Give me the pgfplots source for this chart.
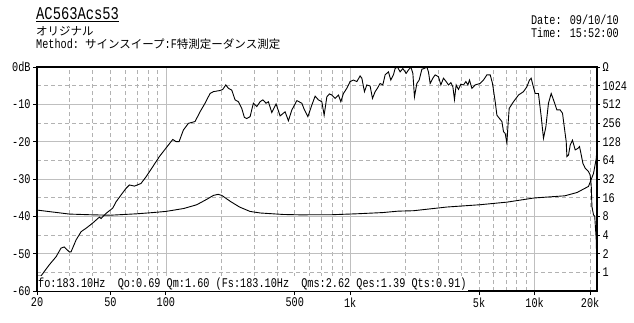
\documentclass[border=0pt]{standalone}
\usepackage{pgfplots}
\pgfplotsset{compat=1.18}
\usepackage{graphicx}
\usepackage{fontspec}
\setmainfont{Liberation Mono}
\newfontfamily\jp{Noto Sans CJK JP}
\newcommand\T[1]{\scalebox{1}[1.3]{#1}}
\begin{document}
\begin{tikzpicture}
\path[use as bounding box, fill=white] (0pt,0pt) rectangle (634pt,322pt);
\begin{axis}[
  at={(37pt,31pt)}, anchor=south west,
  width=560pt, height=224pt, scale only axis,
  xmode=log, xmin=20, xmax=21800,
  ymin=-60, ymax=0,
  font=\fontsize{10.2}{12}\selectfont,
  axis line style={line width=1.6pt},
  xtick={100,1000,10000}, xticklabels={\T{100},\T{1k},\T{10k}},
  extra x ticks={20,50,500,5000,20000},
  extra x tick labels={\T{20},\T{50},\T{500},\T{5k},\T{20k}},
  extra x tick style={grid=none},
  minor xtick={30,40,50,60,70,80,90,200,300,400,500,600,700,800,900,2000,3000,4000,5000,6000,7000,8000,9000,20000},
  ytick={-60,-50,-40,-30,-20,-10,0},
  yticklabels={\T{-60},\T{-50},\T{-40},\T{-30},\T{-20},\T{-10},\T{0dB}},
  minor ytick={-55,-45,-35,-25,-15,-5},
  grid=both,
  major grid style={black!25, line width=0.6pt},
  minor grid style={black!30, line width=0.6pt, dash pattern=on 4pt off 3pt},
  tick align=outside, xtick pos=lower, ytick pos=left,
  major tick length=4pt, minor tick length=0pt,
  every tick/.style={black, line width=0.8pt},
  xticklabel style={yshift=1pt},
  yticklabel style={xshift=1pt},
]
\addplot[black, line width=0.9pt] coordinates {
(20,-56) (21,-56) (23.3,-53) (25.4,-50.8) (27.0,-48.5) (28.1,-48.2) (29.9,-49.5) (30.6,-49.5)
(32.6,-46.3) (34.7,-44.1) (36.9,-43.2) (40.1,-41.8) (43.6,-40.2) (44.5,-40.6) (47.4,-39.2)
(51.5,-37.8) (53.7,-36.1) (57.1,-34.3) (60.8,-32.5) (63.4,-31.6) (67.5,-31.9) (73.3,-31.2)
(78.1,-29.4) (84.9,-26.7) (92.2,-24) (100.2,-21.7) (109,-19.4) (113.6,-20) (117.9,-20)
(124.4,-16.9) (132.4,-15.1) (144,-14.6) (153.2,-12) (163.1,-9.7) (173.6,-7.1) (181,-6.6)
(196.8,-6.3) (203.5,-6) (211.3,-4.8) (218.3,-5.7) (227.7,-6.2) (237.3,-8.8) (247.3,-9.3)
(258,-11.1) (266.6,-13.5) (274.7,-13.8) (286.2,-13.3) (298.3,-9.7) (311.3,-10.6) (324.4,-9.3)
(335.5,-8.8) (349.6,-9.7) (359.8,-9.3) (375.4,-12.2) (396.1,-9.9) (416.4,-13.1) (443.3,-12)
(462,-14.4) (482.2,-11.5) (513.3,-9) (546.3,-9.7) (562.3,-11.3) (588.9,-13.3) (618.9,-10.2)
(645,-7.8) (672,-8.8) (701.3,-9.3) (721.8,-12.9) (746.5,-8) (771.1,-7.2) (794.5,-7.5)
(828,-8.4) (862.9,-7.5) (889.1,-9.3) (918.4,-7.1) (958,-5.7) (998,-3.9) (1040,-3.5)
(1086,-3.9) (1131,-2.4) (1156,-3.0) (1194,-6.6) (1230,-4.8) (1282,-5.1) (1320,-8.4)
(1365,-6.6) (1404,-5.7) (1452,-4.4) (1502,-4.8) (1546,-2.1) (1611,-1.3) (1660,-3.5)
(1715,-2.1) (1752,-0.4) (1803,0) (1865,-1.3) (1929,-0.4) (2010,-1.7) (2069,-0.8) (2132,0)
(2186,-1.7) (2230,-8) (2298,-4.4) (2365,-3.5) (2446,-0.6) (2517,-0.4) (2604,0) (2656,-1.3)
(2713,-4.4) (2806,-3.0) (2888,-2.1) (3010,-2.6) (3101,-4.8) (3203,-3.0) (3313,-3.9)
(3410,-4.8) (3514,-4.2) (3603,-5.3) (3676,-8.7) (3754,-4.8) (3864,-6) (3982,-4.6)
(4113,-4.8) (4239,-3.9) (4346,-4.8) (4434,-3.5) (4568,-5.7) (4761,-4.8) (5067,-4.4)
(5280,-3.5) (5510,-2.1) (5742,-2.1) (5910,-4.4) (6113,-9.3) (6244,-12.9) (6450,-13.8)
(6646,-14.6) (6780,-17.3) (6925,-17.8) (7075,-20.4) (7163,-16) (7280,-11.1) (7682,-9.3)
(8177,-7.5) (8703,-6.6) (9079,-5.3) (9378,-3.5) (9579,-3.0) (9784,-4.8) (10070,-7.1)
(10490,-7.1) (10860,-13.3) (11170,-19.1) (11510,-16) (11890,-9.7) (12300,-7.1) (12660,-8.8)
(13210,-11.5) (13770,-11.5) (14170,-12.4) (14480,-16) (14840,-20) (14970,-24) (15270,-23.6)
(15600,-20.9) (16050,-19.6) (16600,-22.2) (17170,-21.8) (17520,-21.3) (17830,-23.1)
(18280,-25.8) (18810,-27.1) (19600,-28) (20000,-28.9) (20280,-31.6) (20460,-37.4)
(20870,-39.6) (21190,-40) (21590,-46.3) (21780,-54)
};
\node[anchor=south west, fill=white, inner sep=1pt] at (rel axis cs:0,0)
  {\T{fo:183.10Hz\ \ Qo:0.69 Qm:1.60 (Fs:183.10Hz\ \ Qms:2.62 Qes:1.39 Qts:0.91)}};
\end{axis}
\begin{axis}[
  at={(37pt,31pt)}, anchor=south west,
  width=560pt, height=224pt, scale only axis,
  xmode=log, xmin=20, xmax=21800,
  ymode=log, log basis y=2, ymin=0.5, ymax=2048,
  font=\fontsize{10.2}{12}\selectfont,
  hide x axis,
  axis line style={line width=1.6pt},
  ytick={1,2,4,8,16,32,64,128,256,512,1024},
  yticklabels={\T{1},\T{2},\T{4},\T{8},\T{16},\T{32},\T{64},\T{128},\T{256},\T{512},\T{1024}},
  extra y ticks={2048}, extra y tick labels={\T{Ω}},
  ytick pos=right, yticklabel pos=right,
  tick align=outside, major tick length=3pt,
  every tick/.style={black, line width=0.8pt},
  yticklabel style={anchor=west, xshift=-1pt},
]
\addplot[black, line width=0.9pt] coordinates {
(20,10.1) (25,9.3) (30,8.7) (40,8.46) (50,8.34) (70,8.8) (85,9.2) (100,9.6) (125,10.7)
(147,12.3) (167,15.1) (181,17.4) (192,18.1) (201,17.4) (224,13.9) (251,11.3) (286,9.6)
(325,9.06) (434,8.57) (533,8.46) (800,8.5) (1090,8.8) (1500,9.2) (1818,9.7) (2200,9.85)
(3340,11.3) (5040,12.3) (7075,13.55) (9900,15.8) (14600,17.15) (17000,19.4) (19600,24.3)
(20870,39.4) (21590,68.6) (21780,97)
};
\end{axis}
\node[anchor=west, inner sep=0pt] at (36pt,307pt) {\fontsize{13.8}{15}\selectfont\underline{\T{AC563Acs53}}};
\node[anchor=west, inner sep=0pt] at (36pt,291pt) {\fontsize{11.5}{13}\selectfont\jp オリジナル};
\node[anchor=west, inner sep=0pt] at (36pt,278pt) {\fontsize{10.2}{12}\selectfont\T{Method:} {\fontsize{11.5}{13}\selectfont\jp サインスイープ}\T{:F}{\fontsize{11.5}{13}\selectfont\jp 特測定ーダンス測定}};
\node[anchor=east, inner sep=0pt] at (619pt,302pt) {\fontsize{10.2}{12}\selectfont\T{Date: 09/10/10}};
\node[anchor=east, inner sep=0pt] at (619pt,289pt) {\fontsize{10.2}{12}\selectfont\T{Time: 15:52:00}};
\end{tikzpicture}
\end{document}
